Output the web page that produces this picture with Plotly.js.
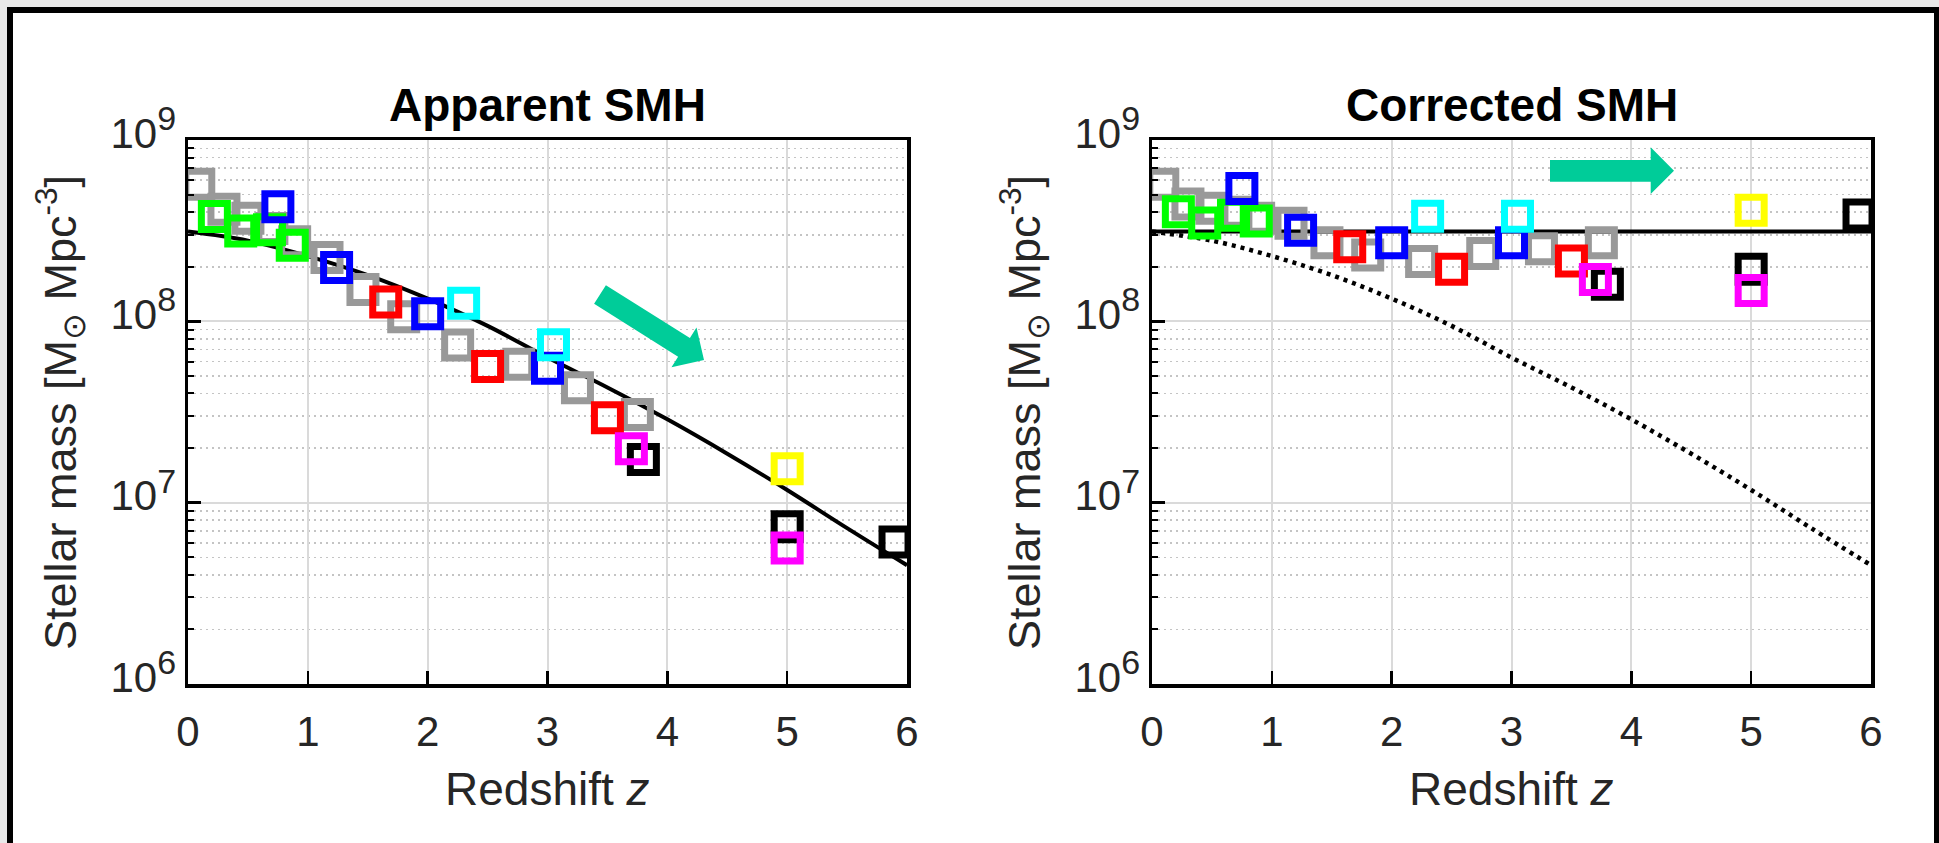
<!DOCTYPE html>
<html>
<head>
<meta charset="utf-8">
<script src="https://cdn.plot.ly/plotly-3.0.1.min.js"></script>
<style>
  html, body { margin: 0; padding: 0; width: 1939px; height: 843px; overflow: hidden; background: #e9e9e9; }
  #frame { position: absolute; left: 7px; top: 7px; width: 1921px; height: 900px; border: 6px solid #000; background: #fff; }
  #chart { position: absolute; left: 0; top: 0; width: 1939px; height: 843px; }
</style>
</head>
<body>
<div id="frame"></div>
<div id="chart"></div>
<script>
// Stellar mass density (M_sun Mpc^-3) versus redshift, per survey colour.
const greyZ         = [0.09, 0.30, 0.50, 0.70, 0.89, 1.16, 1.46, 1.80, 2.25, 2.76, 3.25, 3.75];
const greyApparent  = [5.7e8, 4.15e8, 3.7e8, 3.25e8, 2.75e8, 2.25e8, 1.5e8, 1.06e8, 7.4e7, 5.8e7, 4.3e7, 3.06e7];
const greyCorrected = [5.7e8, 4.43e8, 4.2e8, 4.0e8, 3.7e8, 3.47e8, 2.71e8, 2.32e8, 2.14e8, 2.37e8, 2.51e8, 2.71e8];

const greenZ         = [0.22, 0.44, 0.68, 0.87];
const greenApparent  = [3.78e8, 3.15e8, 3.2e8, 2.63e8];
const greenCorrected = [4.02e8, 3.49e8, 3.85e8, 3.58e8];

const blueZ         = [0.75, 1.24, 2.0, 3.0];
const blueApparent  = [4.28e8, 1.98e8, 1.10e8, 5.52e7];
const blueCorrected = [5.41e8, 3.18e8, 2.71e8, 2.71e8];

const redZ         = [1.65, 2.5, 3.5];
const redApparent  = [1.28e8, 5.64e7, 2.94e7];
const redCorrected = [2.58e8, 1.94e8, 2.15e8];

const cyanZ         = [2.3, 3.05];
const cyanApparent  = [1.26e8, 7.43e7];
const cyanCorrected = [3.80e8, 3.80e8];

const blackZ         = [3.8, 5.0, 5.9];
const blackApparent  = [1.73e7, 7.36e6, 6.07e6];
const blackCorrected = [1.60e8, 1.94e8, 3.86e8];

const magentaZ         = [3.7, 5.0];
const magentaApparent  = [1.98e7, 5.62e6];
const magentaCorrected = [1.70e8, 1.48e8];

const yellowZ         = [5.0];
const yellowApparent  = [1.54e7];
const yellowCorrected = [4.10e8];

// Fitted apparent history and the constant corrected level
const fitZ        = [0, 0.5, 1, 1.5, 2, 2.5, 3, 3.5, 4, 4.5, 5, 5.5, 6];
const fitApparent = [3.126e8, 2.786e8, 2.291e8, 1.799e8, 1.334e8, 9.44e7, 6.31e7, 4.32e7, 2.88e7, 1.862e7, 1.175e7, 7.24e6, 4.52e6];
const flatZ       = [0, 6];
const flatLevel   = [3.13e8, 3.13e8];

// Axis ticks
const xTicks     = [0, 1, 2, 3, 4, 5, 6];
const yTicks     = [1e6, 1e7, 1e8, 1e9];
const yExponents = ['6', '7', '8', '9'];
const yMinorMult = [2, 3, 4, 5, 6, 7, 8, 9];

const FONT = 'Liberation Sans, Arial, Helvetica, sans-serif';
const TICK_SIZE = 42;
const W = 1939, H = 843;
const M = { l: 188, r: 68, t: 140, b: 159 };
const PW = W - M.l - M.r, PH = H - M.t - M.b;

const yTickText = yExponents.map(e => '10<sup><span style="font-size:34px">' + e + '</span></sup>');
const yMinor = [];
yTicks.slice(0, -1).forEach(d => yMinorMult.forEach(m => yMinor.push(m * d)));

const series = [
  { z: greyZ,    a: greyApparent,    c: greyCorrected,    color: '#999999' },
  { z: greenZ,   a: greenApparent,   c: greenCorrected,   color: '#00ff00' },
  { z: blueZ,    a: blueApparent,    c: blueCorrected,    color: '#0000ff' },
  { z: redZ,     a: redApparent,     c: redCorrected,     color: '#ff0000' },
  { z: cyanZ,    a: cyanApparent,    c: cyanCorrected,    color: '#00ffff' },
  { z: blackZ,   a: blackApparent,   c: blackCorrected,   color: '#000000' },
  { z: magentaZ, a: magentaApparent, c: magentaCorrected, color: '#ff00ff' },
  { z: yellowZ,  a: yellowApparent,  c: yellowCorrected,  color: '#ffff00' }
];

const traces = [
  { x: fitZ, y: fitApparent, xaxis: 'x', yaxis: 'y', mode: 'lines',
    line: { color: '#000', width: 4, shape: 'spline' }, hoverinfo: 'skip' },
  { x: flatZ, y: flatLevel, xaxis: 'x2', yaxis: 'y2', mode: 'lines',
    line: { color: '#000', width: 4 }, hoverinfo: 'skip' },
  { x: fitZ, y: fitApparent, xaxis: 'x2', yaxis: 'y2', mode: 'lines',
    line: { color: '#000', width: 4.5, dash: '4px,5px', shape: 'spline' }, hoverinfo: 'skip' }
];

function squares(x, y, color, xa, ya) {
  return { x: x, y: y, xaxis: xa, yaxis: ya, mode: 'markers',
    marker: { symbol: 'square-open', size: 26, color: color, line: { color: color, width: 7 } } };
}
series.forEach(s => traces.push(squares(s.z, s.a, s.color, 'x', 'y')));
series.forEach(s => traces.push(squares(s.z, s.c, s.color, 'x2', 'y2')));

function xAxis(domain, anchor) {
  return {
    domain: domain, anchor: anchor, range: [0, 6], tickvals: xTicks,
    showline: true, linecolor: '#000', linewidth: 3.5, mirror: true,
    ticks: 'inside', ticklen: 13, tickwidth: 2.5, tickcolor: '#000',
    showgrid: true, gridcolor: '#dadada', gridwidth: 2, zeroline: false,
    tickfont: { family: FONT, size: TICK_SIZE, color: '#262626' },
    ticklabelstandoff: 8
  };
}
function yAxis(anchor) {
  return {
    anchor: anchor, type: 'log', range: [6, 9], tickvals: yTicks, ticktext: yTickText,
    showline: true, linecolor: '#000', linewidth: 3.5, mirror: true,
    ticks: 'inside', ticklen: 13, tickwidth: 2.5, tickcolor: '#000',
    showgrid: true, gridcolor: '#dadada', gridwidth: 2, zeroline: false,
    tickfont: { family: FONT, size: TICK_SIZE, color: '#262626' },
    ticklabelshift: -7, ticklabelstandoff: 0,
    minor: { tickmode: 'array', tickvals: yMinor, ticks: 'inside', ticklen: 6, tickwidth: 2,
             tickcolor: '#000', showgrid: true, gridcolor: '#c4c4c4', gridwidth: 1.5, griddash: '2px,4px' }
  };
}

const d1 = [0, 719 / PW];
const d2 = [(1152 - M.l) / PW, 1];

// Arrow outlines in page pixels, mapped to paper coordinates
const px = v => (v - M.l) / PW;
const py = v => (M.t + PH - v) / PH;
function arrowPath(pts) {
  return 'M' + pts.map(p => px(p[0]) + ',' + py(p[1])).join('L') + 'Z';
}
const arrowDown = [[605.9, 285.2], [689.9, 338.1], [696.5, 327.6], [704, 360], [671.5, 367.2], [678.1, 356.7], [594.1, 303.8]];
const arrowRight = [[1550, 160], [1650.7, 160], [1650.7, 147.3], [1674, 170.7], [1650.7, 194], [1650.7, 181.7], [1550, 181.7]];

const titleFont = { family: FONT, size: 46, color: '#000' };
const xLabelFont = { family: FONT, size: 46, color: '#262626' };
const yLabelFont = { family: FONT, size: 45, color: '#262626' };
const yLabel = 'Stellar mass [M<sub>\u2299</sub> Mpc<sup>-3</sup>]';

const layout = {
  width: W, height: H, margin: M,
  paper_bgcolor: 'rgba(0,0,0,0)', plot_bgcolor: '#fff',
  showlegend: false,
  xaxis: xAxis(d1, 'y'), yaxis: yAxis('x'),
  xaxis2: xAxis(d2, 'y2'), yaxis2: yAxis('x2'),
  shapes: [
    { type: 'path', xref: 'paper', yref: 'paper', path: arrowPath(arrowDown), fillcolor: '#00cc99', line: { width: 0 } },
    { type: 'path', xref: 'paper', yref: 'paper', path: arrowPath(arrowRight), fillcolor: '#00cc99', line: { width: 0 } }
  ],
  annotations: [
    { text: '<b>Apparent SMH</b>', xref: 'paper', yref: 'paper', x: (d1[0] + d1[1]) / 2, y: py(105),
      xanchor: 'center', yanchor: 'middle', showarrow: false, font: titleFont },
    { text: '<b>Corrected SMH</b>', xref: 'paper', yref: 'paper', x: (d2[0] + d2[1]) / 2, y: py(105),
      xanchor: 'center', yanchor: 'middle', showarrow: false, font: titleFont },
    { text: 'Redshift <i>z</i>', xref: 'paper', yref: 'paper', x: (d1[0] + d1[1]) / 2, y: py(789),
      xanchor: 'center', yanchor: 'middle', showarrow: false, font: xLabelFont },
    { text: 'Redshift <i>z</i>', xref: 'paper', yref: 'paper', x: (d2[0] + d2[1]) / 2, y: py(789),
      xanchor: 'center', yanchor: 'middle', showarrow: false, font: xLabelFont },
    { text: yLabel, xref: 'paper', yref: 'paper', x: px(60), y: py(413), textangle: -90,
      xanchor: 'center', yanchor: 'middle', showarrow: false, font: yLabelFont },
    { text: yLabel, xref: 'paper', yref: 'paper', x: px(60 + 964), y: py(413), textangle: -90,
      xanchor: 'center', yanchor: 'middle', showarrow: false, font: yLabelFont }
  ]
};

Plotly.newPlot('chart', traces, layout, { staticPlot: true, displayModeBar: false });
</script>
</body>
</html>
